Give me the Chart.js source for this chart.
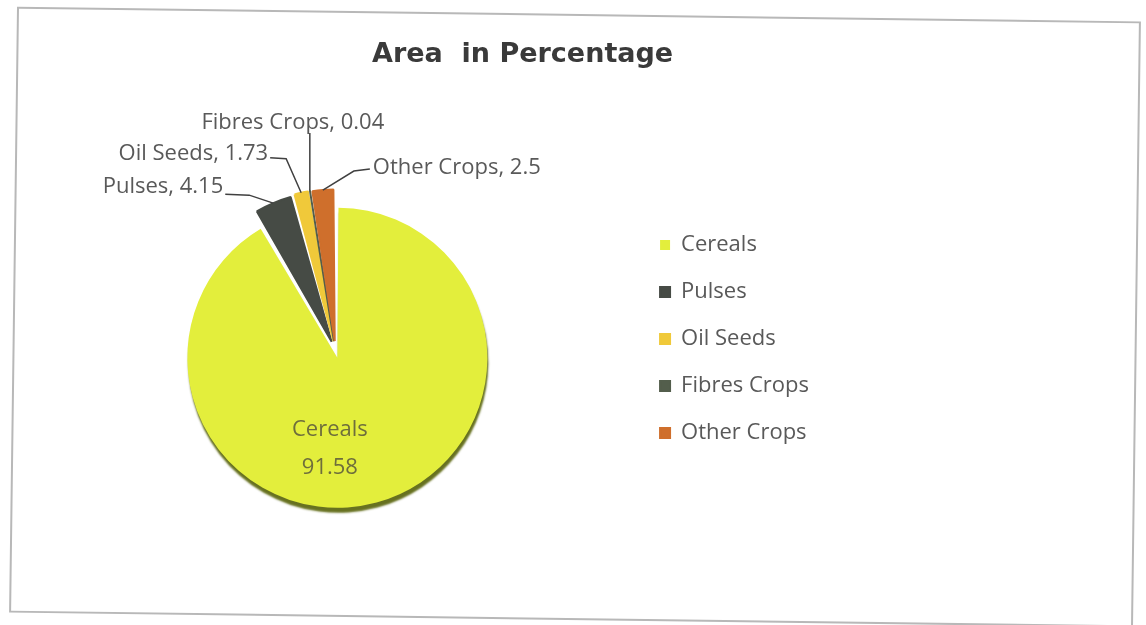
<!DOCTYPE html>
<html lang="en">
<head>
    <meta charset="UTF-8">
    <title>Area in Percentage</title>
    <script src="https://cdn.jsdelivr.net/npm/chart.js"></script>
    <style>
        body { margin: 0; background: #fff; }
        .wrap { position: relative; width: 1146px; height: 625px; overflow: hidden; }
        .frame {
            position: absolute; left: 13px; top: 14px; width: 1120px; height: 602px;
            border: 2px solid #b8b8b8; transform: rotate(0.75deg);
        }
        canvas { position: absolute; left: 0; top: 0; }
    </style>
</head>
<body>
<div class="wrap">
    <div class="frame"></div>
    <canvas id="myChart" width="1146" height="625"></canvas>
</div>
<script>
    const chartTitle = 'Area  in Percentage';
    const crops = ['Cereals', 'Pulses', 'Oil Seeds', 'Fibres Crops', 'Other Crops'];
    const areaShare = [91.58, 4.15, 1.73, 0.04, 2.5];
    const valueLabels = ['91.58', '4.15', '1.73', '0.04', '2.5'];

    const sliceColors = ['#e3ee3c', '#464b45', '#f0c93a', '#535e4c', '#cf6f2c'];
    // cereals pushed down a little, the small slices pulled up a little
    const sliceOffsets = [28, 40, 40, 40, 40];
    const sliceBorders = [0, 2, 2, 2, 2];

    // label placement, relative to the slice's outer mid point:
    // [elbow dx, elbow dy, end dx, end dy, text dx, text dy, text align]
    const labelLayout = [
        null,
        [-24, -8, -48, -9, -2, -7, 'right'],
        [-15, -34, -31, -35, -2, -4, 'right'],
        [0, -57, 0, -57, -17, -10, 'center'],
        [31, -19, 47, -21, 3, -1, 'left']
    ];

    const fontFamily = '"Open Sans", sans-serif';
    const textColor = '#595959';

    // olive rim under the big slice, a bit like the 3D look of the original
    const shadowPlugin = {
        id: 'pieShadow',
        beforeDatasetsDraw(chart) {
            const ctx = chart.ctx;
            chart.getDatasetMeta(0).data.forEach((arc, i) => {
                if (i === 0 || arc._plain) return;
                const draw = arc.draw;
                arc.draw = function (c, area) {
                    c.save();
                    c.shadowColor = 'rgba(0, 0, 0, 0)';
                    draw.call(this, c, area);
                    c.restore();
                };
                arc._plain = true;
            });
            ctx.save();
            ctx.shadowColor = 'rgba(95, 105, 20, 0.95)';
            ctx.shadowOffsetX = 1;
            ctx.shadowOffsetY = 5;
            ctx.shadowBlur = 2;
        },
        afterDatasetsDraw(chart) {
            chart.ctx.restore();
        }
    };

    const labelPlugin = {
        id: 'sliceLabels',
        afterDraw(chart) {
            const ctx = chart.ctx;
            const arcs = chart.getDatasetMeta(0).data;
            ctx.save();

            // title
            ctx.font = 'bold 27px "DejaVu Sans", sans-serif';
            ctx.fillStyle = '#3a3a3a';
            ctx.textAlign = 'center';
            ctx.textBaseline = 'middle';
            ctx.fillText(chartTitle, chart.width * 0.456, 55);

            ctx.font = '22px ' + fontFamily;
            arcs.forEach((arc, i) => {
                const p = arc.getProps(['x', 'y', 'startAngle', 'endAngle', 'outerRadius', 'circumference'], true);
                if (i === 0) {
                    const c = arc.tooltipPosition(true);
                    ctx.fillStyle = '#6e6e3c';
                    ctx.textAlign = 'center';
                    ctx.textBaseline = 'middle';
                    ctx.fillText(crops[i], c.x - 28, c.y - 4);
                    ctx.fillText(valueLabels[i], c.x - 28, c.y + 34);
                    return;
                }
                // same shift the arc element applies for its offset
                const shift = (arc.options.offset || 0) / 4;
                const fix = 1 - Math.sin(Math.min(Math.PI, p.circumference));
                const r = p.outerRadius + shift + shift * fix;
                const mid = (p.startAngle + p.endAngle) / 2;
                const ox = p.x + Math.cos(mid) * r;
                const oy = p.y + Math.sin(mid) * r;
                const [ex, ey, ax, ay, tx, ty, align] = labelLayout[i];

                ctx.strokeStyle = '#404040';
                ctx.lineWidth = 1.5;
                ctx.beginPath();
                ctx.moveTo(ox, oy);
                ctx.lineTo(ox + ex, oy + ey);
                ctx.lineTo(ox + ax, oy + ay);
                ctx.stroke();

                ctx.fillStyle = textColor;
                ctx.textAlign = align;
                ctx.textBaseline = 'middle';
                ctx.fillText(crops[i] + ', ' + valueLabels[i], ox + ax + tx, oy + ay + ty);
            });
            ctx.restore();
        }
    };

    const data = {
        labels: crops,
        datasets: [{
            data: areaShare,
            backgroundColor: sliceColors,
            borderColor: sliceColors,
            borderWidth: sliceBorders,
            offset: sliceOffsets,
            clip: false
        }]
    };

    const config = {
        type: 'pie',
        data: data,
        options: {
            responsive: false,
            animation: false,
            events: [],
            radius: 143,
            layout: { padding: { left: 36, right: 327, top: 209, bottom: 132 } },
            plugins: {
                title: { display: false },
                tooltip: { enabled: false },
                legend: {
                    position: 'right',
                    align: 'start',
                    labels: {
                        boxWidth: 10,
                        boxHeight: 10,
                        padding: 25,
                        color: textColor,
                        font: { family: fontFamily, size: 22 }
                    }
                }
            }
        },
        plugins: [shadowPlugin, labelPlugin]
    };

    const myChart = new Chart(document.getElementById('myChart'), config);
</script>
</body>
</html>
